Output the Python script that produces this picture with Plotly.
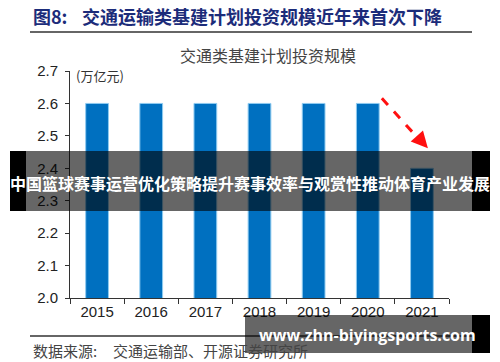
import plotly.graph_objects as go

years = ["2015", "2016", "2017", "2018", "2019", "2020", "2021"]
invest = [2.6, 2.6, 2.6, 2.6, 2.6, 2.6, 2.4]
y_ticks = [2.0, 2.1, 2.2, 2.3, 2.4, 2.5, 2.6, 2.7]

W, H = 500, 362
L, R, T, B = 70, 51, 71, 64
PW, PH = W - L - R, H - T - B

def px(x):
    return (x - L) / PW

def py(y):
    return (H - B - y) / PH

fig = go.Figure()
fig.add_trace(go.Bar(
    x=years, y=invest, width=0.42,
    marker=dict(color="#0070C0", line=dict(color="#8FCBF0", width=1)),
    showlegend=False, hoverinfo="skip",
))

axis_font = dict(family="Liberation Sans, Arial, sans-serif", size=15, color="#222")
fig.update_layout(
    width=W, height=H,
    margin=dict(l=L, r=R, t=T, b=B),
    paper_bgcolor="white", plot_bgcolor="white",
    xaxis=dict(
        type="category", range=[-0.5, 6.5], tickson="boundaries",
        ticks="outside", ticklen=5, tickcolor="#333", tickwidth=1,
        showline=True, linecolor="#333", linewidth=1,
        showgrid=False, tickfont=axis_font, fixedrange=True,
    ),
    yaxis=dict(
        range=[2.0, 2.7], tickvals=y_ticks, ticktext=[f"{v:.1f}" for v in y_ticks],
        ticks="outside", ticklen=4, tickcolor="#333", tickwidth=1,
        showline=True, linecolor="#333", linewidth=1,
        showgrid=False, zeroline=False, tickfont=axis_font, ticklabelstandoff=4,
        fixedrange=True,
    ),
    bargap=0.5,
)

shapes = []
# title underline
shapes.append(dict(type="line", xref="paper", yref="paper",
                   x0=px(30), x1=px(472), y0=py(32), y1=py(32),
                   line=dict(color="#333", width=1.5), layer="above"))
# footer line
shapes.append(dict(type="line", xref="paper", yref="paper",
                   x0=px(30), x1=px(472), y0=py(336), y1=py(336),
                   line=dict(color="#333", width=1.5), layer="above"))

# red dashed arrow from 2020 bar to 2021 bar
sx, sy = 5 + 0.26, invest[5] + 0.016
ex, ey = 6 - 0.02, invest[6] + 0.083
shapes.append(dict(type="line", xref="x", yref="y",
                   x0=sx, y0=sy, x1=ex, y1=ey,
                   line=dict(color="#FF1010", width=3, dash="dash"), layer="above"))

# banner overlay
shapes.append(dict(type="rect", xref="paper", yref="paper",
                   x0=px(10), x1=px(490), y0=py(151), y1=py(211),
                   fillcolor="rgba(0,0,0,0.6)", line=dict(width=0), layer="above"))
for a, b in [(10, 26), (472, 490)]:
    shapes.append(dict(type="rect", xref="paper", yref="paper",
                       x0=px(a), x1=px(b), y0=py(151), y1=py(211),
                       fillcolor="black", line=dict(width=0), layer="above"))
# watermark overlay
shapes.append(dict(type="rect", xref="paper", yref="paper",
                   x0=px(245), x1=px(472), y0=py(315), y1=py(353),
                   fillcolor="rgba(0,0,0,0.6)", line=dict(width=0), layer="above"))
shapes.append(dict(type="rect", xref="paper", yref="paper",
                   x0=px(472), x1=px(490), y0=py(315), y1=py(353),
                   fillcolor="black", line=dict(width=0), layer="above"))
fig.update_layout(shapes=shapes)

cjk = "Noto Sans CJK SC, sans-serif"
ann = []
ann.append(dict(text="<b>图8:</b>",
                xref="paper", yref="paper", x=px(31), y=py(16),
                xanchor="left", yanchor="middle", showarrow=False,
                font=dict(family=cjk, size=18, color="#1C2C7A")))
ann.append(dict(text="<b>交通运输类基建计划投资规模近年来首次下降</b>",
                xref="paper", yref="paper", x=px(80), y=py(16),
                xanchor="left", yanchor="middle", showarrow=False,
                font=dict(family=cjk, size=18, color="#1C2C7A")))
ann.append(dict(text="交通类基建计划投资规模", xref="paper", yref="paper",
                x=px(268), y=py(55), xanchor="center", yanchor="middle",
                showarrow=False, font=dict(family=cjk, size=16, color="#444")))
ann.append(dict(text="(万亿元)", xref="paper", yref="paper",
                x=px(74), y=py(76), xanchor="left", yanchor="middle",
                showarrow=False, font=dict(family=cjk, size=13, color="#333")))
ann.append(dict(text="数据来源:", xref="paper", yref="paper",
                x=px(31), y=py(350), xanchor="left", yanchor="middle",
                showarrow=False, font=dict(family=cjk, size=15, color="#444")))
ann.append(dict(text="交通运输部、开源证券研究所", xref="paper", yref="paper",
                x=px(111), y=py(350), xanchor="left", yanchor="middle",
                showarrow=False, font=dict(family=cjk, size=15, color="#444")))
# arrow head
ann.append(dict(text="", x=6 + 0.11, y=invest[6] + 0.062, xref="x", yref="y",
                ax=-9, ay=-10, showarrow=True, arrowhead=2, arrowsize=1.1,
                arrowwidth=3, arrowcolor="#FF1010"))
# overlay texts
ann.append(dict(text="<b>中国篮球赛事运营优化策略提升赛事效率与观赏性推动体育产业发展</b>",
                xref="paper", yref="paper", x=px(250), y=py(183),
                xanchor="center", yanchor="middle", showarrow=False,
                font=dict(family=cjk, size=16, color="white")))
ann.append(dict(text="<b>www.zhn-biyingsports.com</b>",
                xref="paper", yref="paper", x=px(367), y=py(335),
                xanchor="center", yanchor="middle", showarrow=False,
                font=dict(family="Open Sans, sans-serif", size=16, color="white")))
fig.update_layout(annotations=ann)

fig.write_html("out.html", config={"displayModeBar": False, "staticPlot": True},
               post_script="document.body.style.margin='0';document.body.style.overflow='hidden';")
